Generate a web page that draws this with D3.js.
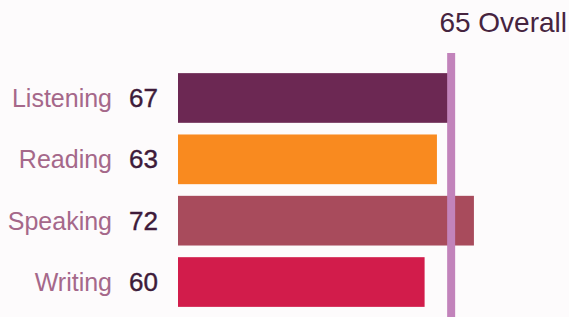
<!DOCTYPE html>
<html>
<head>
<meta charset="utf-8">
<script src="https://cdn.jsdelivr.net/npm/d3@7"></script>
<style>
  html, body { margin: 0; padding: 0; background: #fdfbfc; }
  svg { display: block; font-family: "Liberation Sans", Arial, sans-serif; }
</style>
</head>
<body>
<div id="chart"></div>
<script>
// scores per skill
var skills = ["Listening", "Reading", "Speaking", "Writing"];
var scores = [67, 63, 72, 60];
var barColors = ["#6c2853", "#f98a1f", "#a84b5c", "#d21c4b"];
var overall = 65;
var overallLabel = "Overall";

var width = 569, height = 317;

var svg = d3.select("#chart").append("svg")
    .attr("width", width)
    .attr("height", height);

var x = d3.scaleLinear()
    .domain([0, 100])
    .range([178, 589]);

var y = d3.scaleBand()
    .domain(skills)
    .range([67, 313])
    .paddingInner(0.19)
    .paddingOuter(0.1);

var rows = skills.map(function(s, i) {
    return { skill: s, score: scores[i], color: barColors[i] };
});

// bars
svg.selectAll("rect.bar")
    .data(rows)
    .enter().append("rect")
    .attr("class", "bar")
    .attr("x", x(0))
    .attr("y", function(d) { return y(d.skill); })
    .attr("width", function(d) { return x(d.score) - x(0); })
    .attr("height", y.bandwidth())
    .style("fill", function(d) { return d.color; });

// skill names
svg.selectAll("text.skill")
    .data(rows)
    .enter().append("text")
    .attr("class", "skill")
    .attr("x", 112)
    .attr("y", function(d) { return y(d.skill) + y.bandwidth() / 2 + 9; })
    .attr("text-anchor", "end")
    .text(function(d) { return d.skill; })
    .style("font-size", "25px")
    .style("fill", "#a5688a");

// score numbers
svg.selectAll("text.score")
    .data(rows)
    .enter().append("text")
    .attr("class", "score")
    .attr("x", 158)
    .attr("y", function(d) { return y(d.skill) + y.bandwidth() / 2 + 9; })
    .attr("text-anchor", "end")
    .text(function(d) { return d.score; })
    .style("font-size", "26px")
    .style("font-weight", "500")
    .style("stroke", "#3e1b3a")
    .style("stroke-width", "0.4px")
    .style("fill", "#3e1b3a");

// overall marker line (drawn over the bars)
var lineX = x(overall) + 6;
svg.append("line")
    .attr("x1", lineX)
    .attr("x2", lineX)
    .attr("y1", 53)
    .attr("y2", height)
    .style("stroke", "#c283bb")
    .style("stroke-width", "8px");

svg.append("text")
    .attr("x", width - 2)
    .attr("y", 32)
    .attr("text-anchor", "end")
    .text(overall + " " + overallLabel)
    .style("font-size", "28px")
    .style("fill", "#46243f");
</script>
</body>
</html>
